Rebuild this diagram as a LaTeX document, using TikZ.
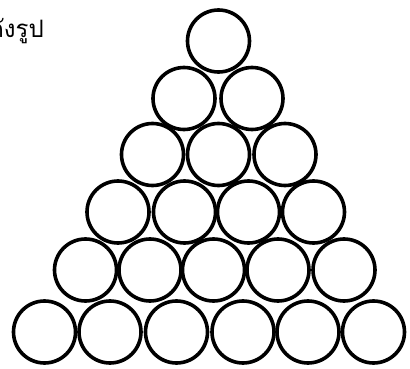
\documentclass[tikz,border=0pt]{standalone}
\usepackage{fontspec}
\newfontfamily\thaifont[Script=Thai]{Loma}
\tikzset{ball/.style={circle,draw=black,line width=3.6pt,minimum size=62pt,inner sep=0pt}}
\begin{document}
\begin{tikzpicture}[x=1pt,y=-1pt]
\useasboundingbox (0,0) rectangle (410,369);
\clip (0,0) rectangle (410,369);
\node[anchor=base east,inner sep=0pt,font=\thaifont\fontsize{24}{28}\selectfont] (txt) at (44,38) {ดังรูป};
% row 1
\node[ball] (c11) at (218.5,41) {};
% row 2
\node[ball] (c21) at (184,98.5) {};
\node[ball] (c22) at (252,98.5) {};
% row 3
\node[ball] (c31) at (152.5,154.5) {};
\node[ball] (c32) at (218.5,154.5) {};
\node[ball] (c33) at (285,154.5) {};
% row 4
\node[ball] (c41) at (118,212) {};
\node[ball] (c42) at (184.5,212) {};
\node[ball] (c43) at (248.5,212) {};
\node[ball] (c44) at (313.5,212) {};
% row 5
\node[ball] (c51) at (85.5,270) {};
\node[ball] (c52) at (150,270) {};
\node[ball] (c53) at (213.5,270) {};
\node[ball] (c54) at (278,270) {};
\node[ball] (c55) at (344,270) {};
% row 6
\node[ball] (c61) at (44.5,332) {};
\node[ball] (c62) at (110,332) {};
\node[ball] (c63) at (176.5,332) {};
\node[ball] (c64) at (243,332) {};
\node[ball] (c65) at (308,332) {};
\node[ball] (c66) at (373.5,332) {};
\end{tikzpicture}
\end{document}
